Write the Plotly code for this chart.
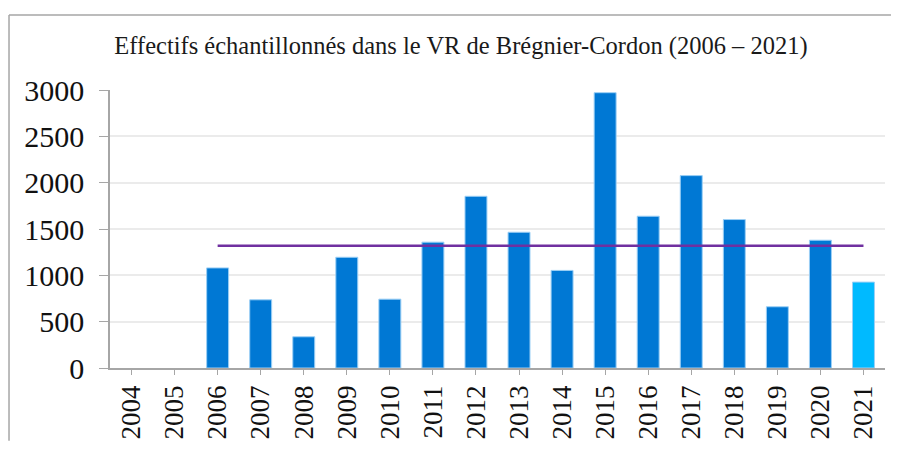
import plotly.graph_objects as go

years = [str(y) for y in range(2004, 2022)]
effectifs = [None, None, 1080, 736, 337, 1195, 743, 1358, 1853, 1465,
             1053, 2971, 1638, 2076, 1602, 661, 1379, 927]
bar_colours = ["#0078D4"] * 17 + ["#00BAFF"]

mean_years = ["2006", "2021"]
mean_values = [1320, 1320]

fig = go.Figure()
fig.add_trace(
    go.Bar(
        x=years,
        y=effectifs,
        marker_color=bar_colours,
        marker_line_color="#9ccff5",
        marker_line_width=1,
        showlegend=False,
    )
)
fig.add_trace(
    go.Scatter(
        x=mean_years,
        y=mean_values,
        mode="lines",
        line=dict(color="#7030A0", width=2.5),
        showlegend=False,
    )
)

# outer frame of the chart: only the left and top edges are visible
# (kept inside the figure so nothing overflows the page)
frame = dict(color="#a6a6a6", width=1.5)
fig.add_shape(type="line", xref="paper", yref="paper",
              x0=-0.1303, x1=-0.1303, y0=-0.262, y1=1.2698, line=frame)
fig.add_shape(type="line", xref="paper", yref="paper",
              x0=-0.1303, x1=1.0077, y0=1.2698, y1=1.2698, line=frame)

# the page body adds an 8px margin, so the figure is shrunk to avoid scrollbars
fig.update_layout(
    width=883,
    height=433,
    margin=dict(l=102, r=6, t=82, b=73),
    paper_bgcolor="white",
    plot_bgcolor="white",
    bargap=0.49,
    title=dict(
        text="Effectifs échantillonnés dans le VR de Brégnier-Cordon (2006 – 2021)",
        x=0.513, xanchor="center", y=0.9145, yanchor="middle",
        font=dict(family="Liberation Serif", size=24.5, color="#1a1a1a"),
    ),
)
fig.update_xaxes(
    type="category",
    range=[-0.5, 17.5],
    tickangle=-90,
    tickfont=dict(family="Liberation Serif", size=27, color="#111"),
    ticks="outside", ticklen=5, tickcolor="#a6a6a6",
    showline=True, linecolor="#a6a6a6", linewidth=1.5,
    showgrid=False,
    automargin=False,
)
fig.update_yaxes(
    range=[0, 3000],
    dtick=500,
    tickfont=dict(family="Liberation Serif", size=30, color="#111"),
    ticks="outside", ticklen=9, tickcolor="#a6a6a6",
    ticklabelstandoff=9,
    showline=True, linecolor="#a6a6a6", linewidth=1.5,
    gridcolor="#ebebeb", gridwidth=1.5,
    zeroline=False,
    automargin=False,
)

fig.write_html("out.html", config={"displayModeBar": False})
